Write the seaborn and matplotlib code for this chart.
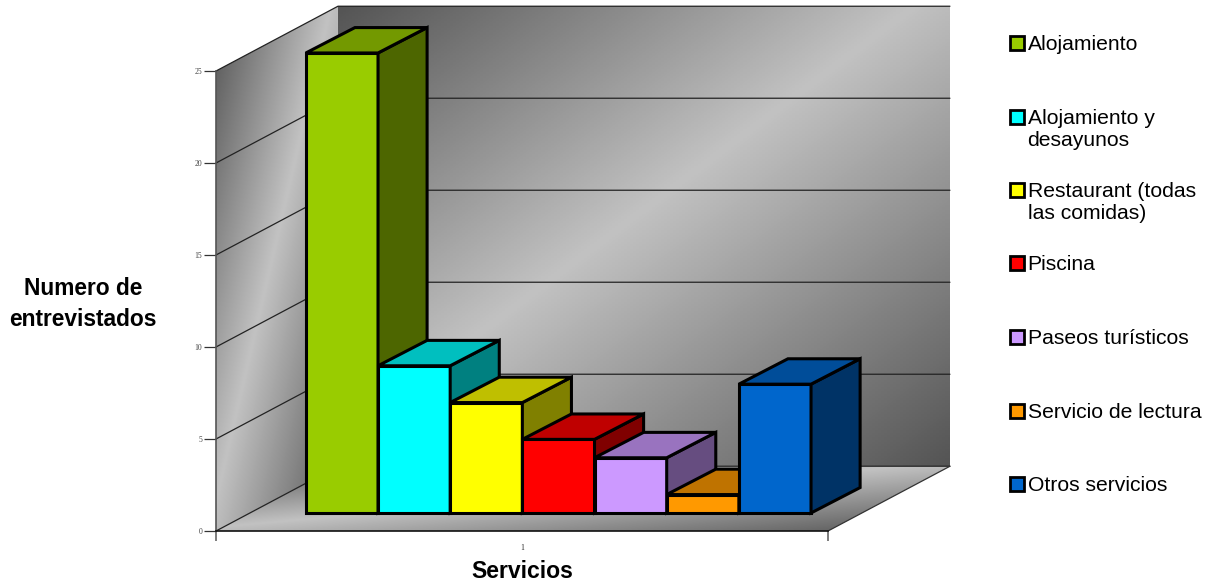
import numpy as np
import pandas as pd
import matplotlib
matplotlib.use("Agg")
import matplotlib.pyplot as plt
from matplotlib.patches import Polygon, Rectangle
import seaborn as sns

servicios = ["Alojamiento", "Alojamiento y\ndesayunos", "Restaurant (todas\nlas comidas)",
             "Piscina", "Paseos turísticos", "Servicio de lectura", "Otros servicios"]
entrevistados = [25, 8, 6, 4, 3, 1, 7]
colores = ["#99CC00", "#00FFFF", "#FFFF00", "#FF0000", "#CC99FF", "#FF9900", "#0066CC"]
y_ticks = [0, 5, 10, 15, 20, 25]

sns.set_style("white")
plt.rcParams["font.family"] = ["Liberation Sans", "DejaVu Sans"]

W, H = 1217, 584
fig = plt.figure(figsize=(W / 100, H / 100), dpi=100, facecolor="white")
ax = fig.add_axes([216 / W, (H - 531) / H, 612 / W, 460 / H])

df = pd.DataFrame({"servicio": servicios, "n": entrevistados})
sns.barplot(data=df, x="servicio", y="n", hue="servicio", palette=colores, order=servicios,
            hue_order=servicios, dodge=False, width=1, saturation=1, legend=False, ax=ax)

xl, xr = -1.26, 7.22
ymax = 25
# profundidad del piso/paredes y de las barras, en unidades de datos
wall_dx, wall_dy = 1.69, 3.52
off_dx, off_dy = 0.485, 0.98
bar_dx, bar_dy = 0.68, 1.38


def gradiente(corners, lo=0.33, hi=0.76, mid=0.47):
    # degradado diagonal oscuro-claro-oscuro, recortado al paralelogramo
    xs = [c[0] for c in corners]
    ys = [c[1] for c in corners]
    u, v = np.meshgrid(np.linspace(0, 1, 200), np.linspace(0, 1, 200))
    t = (u + v) / 2
    g = np.where(t < mid, lo + (hi - lo) * t / mid, hi - (hi - lo) * (t - mid) / (1 - mid))
    im = ax.imshow(g, cmap="gray", vmin=0, vmax=1, aspect="auto", origin="upper",
                   extent=[min(xs), max(xs), min(ys), max(ys)], zorder=0, interpolation="bilinear")
    im.set_clip_path(Polygon(corners, closed=True, transform=ax.transData))
    im.set_clip_box(fig.bbox)


gradiente([(xl, 0), (xl + wall_dx, wall_dy), (xl + wall_dx, ymax + wall_dy), (xl, ymax)])
gradiente([(xl + wall_dx, wall_dy), (xr + wall_dx, wall_dy), (xr + wall_dx, ymax + wall_dy), (xl + wall_dx, ymax + wall_dy)])
gradiente([(xl, 0), (xr, 0), (xr + wall_dx, wall_dy), (xl + wall_dx, wall_dy)])

# lineas de la grilla en las paredes
for v in y_ticks:
    ax.plot([xl, xl + wall_dx, xr + wall_dx], [v, v + wall_dy, v + wall_dy],
            color="#222222", lw=0.9, zorder=1, clip_on=False)
ax.plot([xr, xr + wall_dx], [0, wall_dy], color="#333333", lw=0.9, zorder=1, clip_on=False)

# barras 3D: la cara frontal viene de seaborn, lateral y superior se derivan de ella
for i, bar in enumerate(ax.patches):
    x0 = bar.get_x() + off_dx
    w = bar.get_width()
    h = bar.get_height()
    y0 = off_dy
    bar.set_x(x0)
    bar.set_y(y0)
    bar.set_edgecolor("black")
    bar.set_linewidth(2.2)
    bar.set_zorder(3 + i)
    bar.set_clip_on(False)
    c = np.array(matplotlib.colors.to_rgb(colores[i]))
    top = [(x0, y0 + h), (x0 + w, y0 + h), (x0 + w + bar_dx, y0 + h + bar_dy), (x0 + bar_dx, y0 + h + bar_dy)]
    side = [(x0 + w, y0), (x0 + w + bar_dx, y0 + bar_dy), (x0 + w + bar_dx, y0 + h + bar_dy), (x0 + w, y0 + h)]
    ax.add_patch(Polygon(side, closed=True, fc=c * 0.5, ec="black", lw=2.2, zorder=3 + i,
                         clip_on=False, joinstyle="miter"))
    ax.add_patch(Polygon(top, closed=True, fc=c * 0.75, ec="black", lw=2.2, zorder=3 + i,
                         clip_on=False, joinstyle="miter"))

ax.set_xlim(xl, xr)
ax.set_ylim(0, ymax)
ax.patch.set_visible(False)
sns.despine(ax=ax, top=True, right=True)
ax.spines["left"].set_color("#555555")
ax.spines["left"].set_linewidth(1.2)
ax.spines["bottom"].set_color("#111111")
ax.spines["bottom"].set_linewidth(1.2)
ax.set_xticks([xl, xr], ["", ""])
ax.set_xticks([(xl + xr) / 2], ["1"], minor=True)
ax.tick_params(axis="x", which="major", length=7.5, width=1.2, color="#666666", bottom=True)
ax.tick_params(axis="x", which="minor", length=0, pad=9, labelsize=5.5, labelfontfamily="Liberation Serif", labelcolor="#222222")
ax.set_yticks(y_ticks, [str(v) for v in y_ticks])
ax.tick_params(axis="y", length=9, width=0.9, color="#333333", left=True, pad=1,
               labelsize=5.5, labelfontfamily="Liberation Serif", labelcolor="#444444")

ax.set_xlabel("Servicios", fontsize=16.6, fontweight="bold", color="black")
ax.xaxis.set_label_coords(0.5, (531 - 571) / 460, transform=ax.transAxes)
ax.xaxis.label.set_verticalalignment("center")
ax.set_ylabel("Numero de\nentrevistados", fontsize=16.4, fontweight="bold", rotation=0,
              color="black", ha="center", va="center", linespacing=1.42)
ax.yaxis.set_label_coords((83 - 216) / 612, (531 - 304) / 460, transform=ax.transAxes)

# leyenda a mano: Excel reparte las entradas de forma uniforme por la primera linea
for i, (nombre, color) in enumerate(zip(servicios, colores)):
    ypix = 43 + 73.5 * i
    fig.add_artist(Rectangle((1009.5 / W, 1 - (ypix + 7) / H), 14 / W, 14 / H, transform=fig.transFigure,
                             fc=color, ec="black", lw=2))
    fig.text(1027.5 / W, 1 - (ypix - 8) / H, nombre, fontsize=15.2, color="black", va="top", ha="left",
             linespacing=1.2)

fig.savefig("out.png", dpi=100)
